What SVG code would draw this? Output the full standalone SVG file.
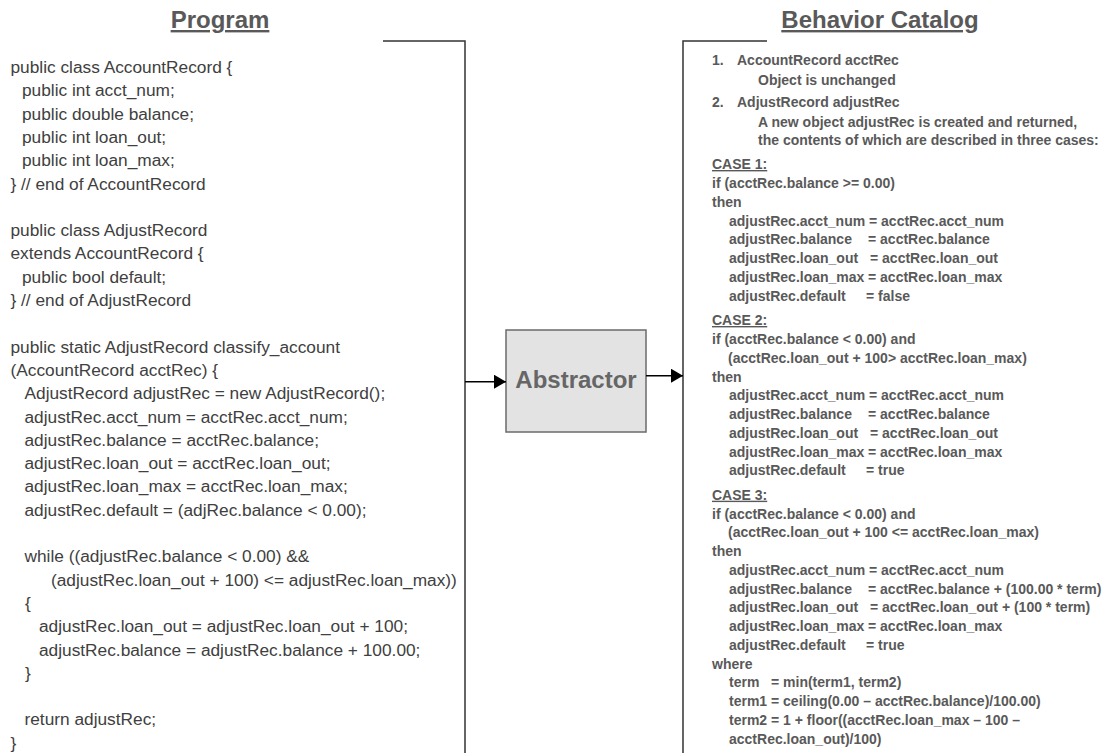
<svg xmlns="http://www.w3.org/2000/svg" width="1105" height="753" viewBox="0 0 1105 753">
<style>
.title{font-family:"Liberation Sans",Arial,sans-serif;font-size:24px;font-weight:bold;fill:#595959;text-decoration:underline;text-anchor:middle}
.code{font-family:"Liberation Sans",Arial,sans-serif;font-size:17.3px;fill:#404040}
.cat{font-family:"Liberation Sans",Arial,sans-serif;font-size:14px;font-weight:bold;fill:#595959}
.case{text-decoration:underline}
.bracket{fill:none;stroke:#333;stroke-width:1.5}
.box{fill:#e3e3e3;stroke:#6b6b6b;stroke-width:1.5}
.boxlabel{font-family:"Liberation Sans",Arial,sans-serif;font-size:24px;font-weight:bold;fill:#666;text-anchor:middle}
.conn{stroke:#000;stroke-width:1.5;fill:none}
</style>
<defs>
<marker id="ah" viewBox="0 0 12 14" refX="12" refY="7" markerWidth="12" markerHeight="14" markerUnits="userSpaceOnUse" orient="auto">
<path d="M0,0 L12,7 L0,14 z" fill="#000"/>
</marker>
</defs>
<rect width="1105" height="753" fill="#fff"/>

<g id="program">
<text class="title" x="220" y="28">Program</text>
<polyline class="bracket" points="383,41 465,41 465,753"/>
<text class="code" x="10.5" y="73">public class AccountRecord {</text>
<text class="code" x="22" y="96.3">public int acct_num;</text>
<text class="code" x="22" y="119.6">public double balance;</text>
<text class="code" x="22" y="142.9">public int loan_out;</text>
<text class="code" x="22" y="166.2">public int loan_max;</text>
<text class="code" x="10.5" y="189.5">} // end of AccountRecord</text>
<text class="code" x="10.5" y="236.1">public class AdjustRecord</text>
<text class="code" x="10.5" y="259.4">extends AccountRecord {</text>
<text class="code" x="22" y="282.7">public bool default;</text>
<text class="code" x="10.5" y="306">} // end of AdjustRecord</text>
<text class="code" x="10.5" y="352.6">public static AdjustRecord classify_account</text>
<text class="code" x="10.5" y="375.9">(AccountRecord acctRec) {</text>
<text class="code" x="24.5" y="399.2">AdjustRecord adjustRec = new AdjustRecord();</text>
<text class="code" x="24.5" y="422.5">adjustRec.acct_num = acctRec.acct_num;</text>
<text class="code" x="24.5" y="445.8">adjustRec.balance = acctRec.balance;</text>
<text class="code" x="24.5" y="469.1">adjustRec.loan_out = acctRec.loan_out;</text>
<text class="code" x="24.5" y="492.4">adjustRec.loan_max = acctRec.loan_max;</text>
<text class="code" x="24.5" y="515.7">adjustRec.default = (adjRec.balance &lt; 0.00);</text>
<text class="code" x="24.5" y="562.3">while ((adjustRec.balance &lt; 0.00) &amp;&amp;</text>
<text class="code" x="51" y="585.6">(adjustRec.loan_out + 100) &lt;= adjustRec.loan_max))</text>
<text class="code" x="25" y="608.9">{</text>
<text class="code" x="39" y="632.2">adjustRec.loan_out = adjustRec.loan_out + 100;</text>
<text class="code" x="39" y="655.5">adjustRec.balance = adjustRec.balance + 100.00;</text>
<text class="code" x="25" y="678.8">}</text>
<text class="code" x="24.5" y="725.4">return adjustRec;</text>
<text class="code" x="10.5" y="748.7">}</text>
</g>

<g id="abstractor">
<rect class="box" x="506" y="330" width="140" height="102"/>
<text class="boxlabel" x="576" y="388">Abstractor</text>
</g>

<g id="catalog">
<text class="title" x="880" y="28">Behavior Catalog</text>
<polyline class="bracket" points="767,41 683,41 683,753"/>
<text class="cat" x="712" y="65">1.</text>
<text class="cat" x="737" y="65">AccountRecord acctRec</text>
<text class="cat" x="758" y="85">Object is unchanged</text>
<text class="cat" x="712" y="106.7">2.</text>
<text class="cat" x="737" y="106.7">AdjustRecord adjustRec</text>
<text class="cat" x="758" y="126.7">A new object adjustRec is created and returned,</text>
<text class="cat" x="758" y="145">the contents of which are described in three cases:</text>

<text class="cat case" x="712" y="169">CASE 1:</text>
<text class="cat" x="712" y="188">if (acctRec.balance &gt;= 0.00)</text>
<text class="cat" x="712" y="206.7">then</text>
<text class="cat" y="225.5"><tspan x="729">adjustRec.acct_num</tspan><tspan x="869">= acctRec.acct_num</tspan></text>
<text class="cat" y="244.2"><tspan x="729">adjustRec.balance</tspan><tspan x="868">= acctRec.balance</tspan></text>
<text class="cat" y="263"><tspan x="729">adjustRec.loan_out</tspan><tspan x="870">= acctRec.loan_out</tspan></text>
<text class="cat" y="281.7"><tspan x="729">adjustRec.loan_max</tspan><tspan x="868">= acctRec.loan_max</tspan></text>
<text class="cat" y="300.5"><tspan x="729">adjustRec.default</tspan><tspan x="866">= false</tspan></text>

<text class="cat case" x="712" y="325">CASE 2:</text>
<text class="cat" x="712" y="344">if (acctRec.balance &lt; 0.00) and</text>
<text class="cat" x="728" y="362.7">(acctRec.loan_out + 100&gt; acctRec.loan_max)</text>
<text class="cat" x="712" y="381.5">then</text>
<text class="cat" y="400.2"><tspan x="729">adjustRec.acct_num</tspan><tspan x="869">= acctRec.acct_num</tspan></text>
<text class="cat" y="419"><tspan x="729">adjustRec.balance</tspan><tspan x="868">= acctRec.balance</tspan></text>
<text class="cat" y="437.7"><tspan x="729">adjustRec.loan_out</tspan><tspan x="870">= acctRec.loan_out</tspan></text>
<text class="cat" y="456.5"><tspan x="729">adjustRec.loan_max</tspan><tspan x="868">= acctRec.loan_max</tspan></text>
<text class="cat" y="475.2"><tspan x="729">adjustRec.default</tspan><tspan x="866">= true</tspan></text>

<text class="cat case" x="712" y="499.7">CASE 3:</text>
<text class="cat" x="712" y="518.5">if (acctRec.balance &lt; 0.00) and</text>
<text class="cat" x="728" y="537.2">(acctRec.loan_out + 100 &lt;= acctRec.loan_max)</text>
<text class="cat" x="712" y="556">then</text>
<text class="cat" y="574.7"><tspan x="729">adjustRec.acct_num</tspan><tspan x="869">= acctRec.acct_num</tspan></text>
<text class="cat" y="593.5"><tspan x="729">adjustRec.balance</tspan><tspan x="868">= acctRec.balance + (100.00 * term)</tspan></text>
<text class="cat" y="612.2"><tspan x="729">adjustRec.loan_out</tspan><tspan x="870">= acctRec.loan_out + (100 * term)</tspan></text>
<text class="cat" y="631"><tspan x="729">adjustRec.loan_max</tspan><tspan x="868">= acctRec.loan_max</tspan></text>
<text class="cat" y="649.7"><tspan x="729">adjustRec.default</tspan><tspan x="866">= true</tspan></text>
<text class="cat" x="712" y="668.5">where</text>
<text class="cat" y="687.2"><tspan x="729">term</tspan><tspan x="771">= min(term1, term2)</tspan></text>
<text class="cat" x="729" y="706">term1 = ceiling(0.00 – acctRec.balance)/100.00)</text>
<text class="cat" x="729" y="724.7">term2 = 1 + floor((acctRec.loan_max – 100 –</text>
<text class="cat" x="729" y="743.5">acctRec.loan_out)/100)</text>
</g>

<g id="connectors">
<line class="conn" x1="465" y1="381.7" x2="506" y2="381.7" marker-end="url(#ah)"/>
<line class="conn" x1="646" y1="375.7" x2="683" y2="375.7" marker-end="url(#ah)"/>
</g>
</svg>
